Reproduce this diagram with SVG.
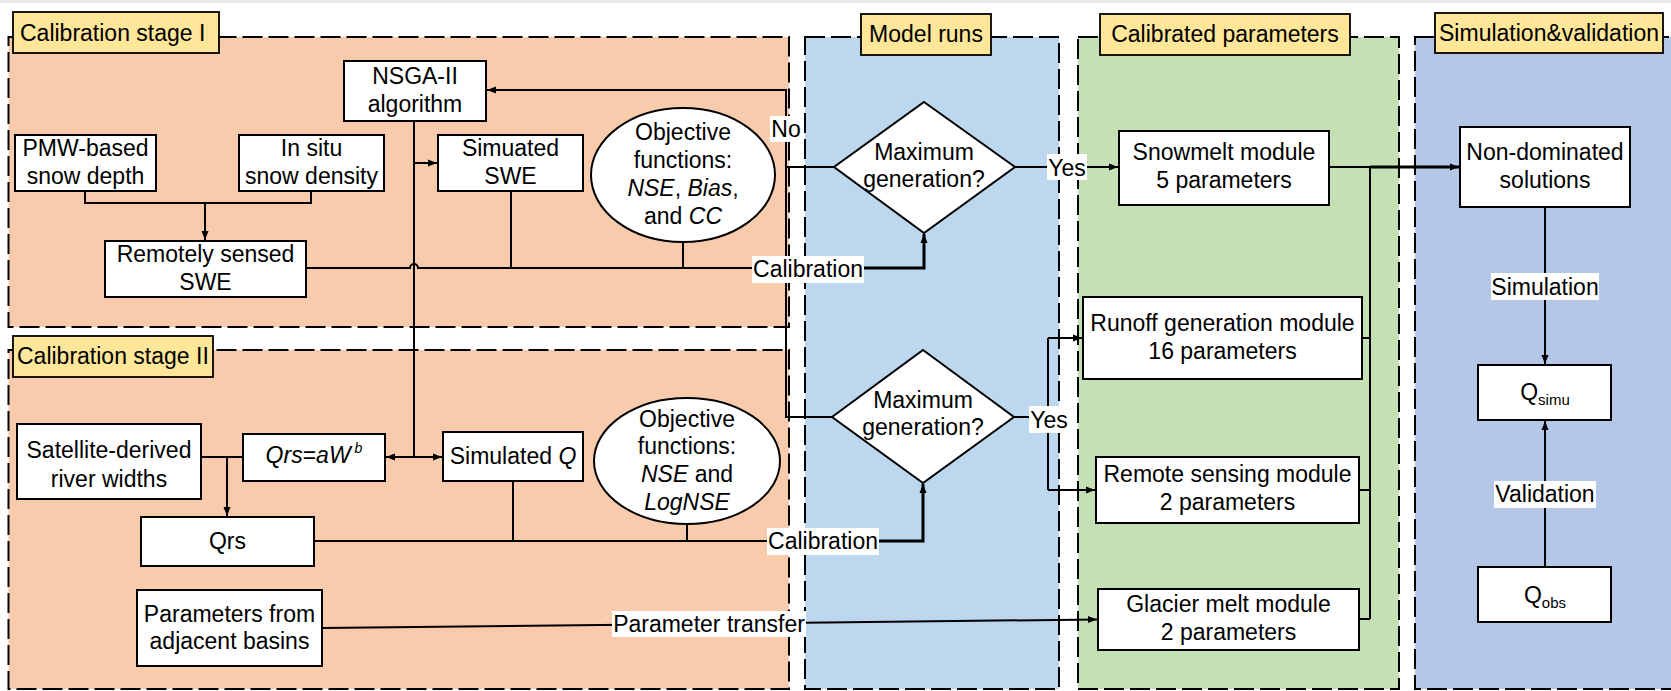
<svg xmlns="http://www.w3.org/2000/svg" width="1671" height="691" viewBox="0 0 1671 691">
<style>
text{font-family:"Liberation Sans",Arial,sans-serif;font-size:23px;fill:#000}
.c{text-anchor:middle}
.i{font-style:italic}
.panel{stroke:#000;stroke-width:2;stroke-dasharray:20 6}
.lab{fill:#FFE699;stroke:#000;stroke-width:1.8}
.box{fill:#fff;stroke:#000;stroke-width:2}
.wl{fill:#fff}
.ln{fill:none;stroke:#000;stroke-width:2}
.th{fill:none;stroke:#000;stroke-width:3}
</style>
<defs>
<marker id="ar" markerUnits="userSpaceOnUse" markerWidth="10" markerHeight="10" viewBox="0 0 10 10" refX="9" refY="5" orient="auto">
<path d="M0,1.5 L9,5 L0,8.5 Z" fill="#000"/>
</marker>
</defs>
<rect x="0" y="0" width="1671" height="691" fill="#fff"/>
<rect x="0" y="0" width="1671" height="3" fill="#E7EBF0"/>

<g id="panel-stage1">
<rect class="panel" x="8.5" y="37" width="780.5" height="290" fill="#F8CBAD"/>
<rect class="lab" x="13" y="12" width="206" height="41"/>
<text x="20" y="41">Calibration stage I</text>
</g>
<g id="panel-stage2">
<rect class="panel" x="8.5" y="350" width="780.5" height="339" fill="#F8CBAD"/>
<rect class="lab" x="13" y="336" width="200" height="41"/>
<text x="17" y="364">Calibration stage II</text>
</g>
<g id="panel-model">
<rect class="panel" x="805" y="37" width="254" height="652" fill="#BDD7EE"/>
<rect class="lab" x="861" y="14" width="130" height="41"/>
<text class="c" x="926" y="42">Model runs</text>
</g>
<g id="panel-params">
<rect class="panel" x="1078" y="37" width="321" height="652" fill="#C5E0B4"/>
<rect class="lab" x="1100" y="14" width="250" height="41"/>
<text class="c" x="1225" y="42">Calibrated parameters</text>
</g>
<g id="panel-sim">
<rect class="panel" x="1415" y="37" width="262" height="652" fill="#B4C7E7"/>
<rect class="lab" x="1435" y="13" width="228" height="40"/>
<text class="c" x="1549" y="41" textLength="220" lengthAdjust="spacingAndGlyphs">Simulation&amp;validation</text>
</g>

<g id="connectors">
<path class="ln" d="M85,191 V203 H311 V191"/>
<path class="ln" d="M205,203 V240" marker-end="url(#ar)"/>
<path class="ln" d="M414,121 V457"/>
<path class="ln" d="M414,163 H437" marker-end="url(#ar)"/>
<path class="ln" d="M414,457 H386" marker-end="url(#ar)"/>
<path class="ln" d="M414,457 H442" marker-end="url(#ar)"/>
<path class="ln" d="M306,268 H410 A4,4 0 0 1 418,268 H810"/>
<path class="ln" d="M511,191 V268"/>
<path class="ln" d="M683,242 V268"/>
<path class="th" d="M810,268 H924 V234" marker-end="url(#ar)"/>
<path class="ln" d="M201,457 H243"/>
<path class="ln" d="M227,457 V516" marker-end="url(#ar)"/>
<path class="ln" d="M314,541 H820"/>
<path class="ln" d="M513,482 V541"/>
<path class="ln" d="M687,524 V541"/>
<path class="th" d="M820,541 H923 V484" marker-end="url(#ar)"/>
<path class="ln" d="M834,167 H786"/>
<path class="ln" d="M832,417 H786 V90 H487" marker-end="url(#ar)"/>
<path class="ln" d="M1015,167 H1118" marker-end="url(#ar)"/>
<path class="ln" d="M1014,417 H1048"/>
<path class="ln" d="M1048,338 V490"/>
<path class="ln" d="M1048,338 H1082" marker-end="url(#ar)"/>
<path class="ln" d="M1048,490 H1095" marker-end="url(#ar)"/>
<path class="ln" d="M1329,167 H1370 V619"/>
<path class="th" d="M1370,167 H1459" marker-end="url(#ar)"/>
<path class="ln" d="M1362,338 H1370"/>
<path class="ln" d="M1359,490 H1370"/>
<path class="ln" d="M1359,619 H1370"/>
<path class="ln" d="M322,628 L1097,619.5" marker-end="url(#ar)"/>
<path class="ln" d="M1545,207 V364" marker-end="url(#ar)"/>
<path class="ln" d="M1545,567 V421" marker-end="url(#ar)"/>
<rect class="wl" x="770" y="116" width="32" height="26"/>
<text class="c" x="786" y="137">No</text>
<rect class="wl" x="1047" y="154" width="40" height="26"/>
<text class="c" x="1067" y="176">Yes</text>
<rect class="wl" x="1029" y="406" width="40" height="27"/>
<text class="c" x="1049" y="428">Yes</text>
<rect class="wl" x="752" y="256" width="112" height="27"/>
<text class="c" x="808" y="277">Calibration</text>
<rect class="wl" x="767" y="528" width="112" height="27"/>
<text class="c" x="823" y="549">Calibration</text>
<rect class="wl" x="1491" y="273" width="108" height="27"/>
<text class="c" x="1545" y="295">Simulation</text>
<rect class="wl" x="1494" y="481" width="102" height="27"/>
<text class="c" x="1545" y="502">Validation</text>
<rect class="wl" x="612" y="611" width="194" height="26"/>
<text class="c" x="709" y="632">Parameter transfer</text>
</g>

<g id="nsga">
<rect class="box" x="344" y="61" width="142" height="60"/>
<text class="c" x="415" y="84">NSGA-II</text>
<text class="c" x="415" y="112">algorithm</text>
</g>
<g id="pmw">
<rect class="box" x="15" y="135" width="141" height="56"/>
<text class="c" x="85.5" y="156">PMW-based</text>
<text class="c" x="85.5" y="184">snow depth</text>
</g>
<g id="insitu">
<rect class="box" x="239" y="135" width="145" height="56"/>
<text class="c" x="311.5" y="156">In situ</text>
<text class="c" x="311.5" y="184">snow density</text>
</g>
<g id="simswe">
<rect class="box" x="438" y="135" width="145" height="56"/>
<text class="c" x="510.5" y="156">Simuated</text>
<text class="c" x="510.5" y="184">SWE</text>
</g>
<g id="rsswe">
<rect class="box" x="105" y="241" width="201" height="56"/>
<text class="c" x="205.5" y="262">Remotely sensed</text>
<text class="c" x="205.5" y="290">SWE</text>
</g>
<g id="obj1">
<ellipse cx="683" cy="175" rx="92" ry="67" fill="#fff" stroke="#000" stroke-width="2"/>
<text class="c" x="683" y="140">Objective</text>
<text class="c" x="683" y="168">functions:</text>
<text class="c" x="683" y="196"><tspan class="i">NSE</tspan>, <tspan class="i">Bias</tspan>,</text>
<text class="c" x="683" y="224">and <tspan class="i">CC</tspan></text>
</g>
<g id="diamond1">
<polygon points="924,102 1015,167 924,233 834,167" fill="#fff" stroke="#000" stroke-width="2"/>
<text class="c" x="924" y="160">Maximum</text>
<text class="c" x="924" y="187">generation?</text>
</g>
<g id="satw">
<rect class="box" x="17" y="424" width="184" height="75"/>
<text class="c" x="109" y="458">Satellite-derived</text>
<text class="c" x="109" y="487">river widths</text>
</g>
<g id="qrsformula">
<rect class="box" x="243" y="434" width="142" height="47"/>
<text class="c" x="314" y="463"><tspan class="i">Qrs</tspan>=<tspan class="i">aW</tspan><tspan class="i" font-size="14" dx="4" dy="-10">b</tspan></text>
</g>
<g id="simq">
<rect class="box" x="443" y="432" width="140" height="49"/>
<text class="c" x="513" y="464">Simulated <tspan class="i">Q</tspan></text>
</g>
<g id="qrs">
<rect class="box" x="141" y="517" width="173" height="49"/>
<text class="c" x="227.5" y="549">Qrs</text>
</g>
<g id="adjacent">
<rect class="box" x="137" y="590" width="185" height="76"/>
<text class="c" x="229.5" y="622">Parameters from</text>
<text class="c" x="229.5" y="649">adjacent basins</text>
</g>
<g id="obj2">
<ellipse cx="687" cy="461" rx="93" ry="63" fill="#fff" stroke="#000" stroke-width="2"/>
<text class="c" x="687" y="427">Objective</text>
<text class="c" x="687" y="454">functions:</text>
<text class="c" x="687" y="482"><tspan class="i">NSE</tspan> and</text>
<text class="c" x="687" y="510" font-style="italic">LogNSE</text>
</g>
<g id="diamond2">
<polygon points="923,350 1014,417 923,483 832,417" fill="#fff" stroke="#000" stroke-width="2"/>
<text class="c" x="923" y="408">Maximum</text>
<text class="c" x="923" y="435">generation?</text>
</g>
<g id="snowmelt">
<rect class="box" x="1119" y="131" width="210" height="74"/>
<text class="c" x="1224" y="160">Snowmelt module</text>
<text class="c" x="1224" y="188">5 parameters</text>
</g>
<g id="runoff">
<rect class="box" x="1083" y="297" width="279" height="82"/>
<text class="c" x="1222.5" y="331">Runoff generation module</text>
<text class="c" x="1222.5" y="359">16 parameters</text>
</g>
<g id="remote">
<rect class="box" x="1096" y="457" width="263" height="66"/>
<text class="c" x="1227.5" y="482">Remote sensing module</text>
<text class="c" x="1227.5" y="510">2 parameters</text>
</g>
<g id="glacier">
<rect class="box" x="1098" y="589" width="261" height="61"/>
<text class="c" x="1228.5" y="612">Glacier melt module</text>
<text class="c" x="1228.5" y="640">2 parameters</text>
</g>
<g id="nondom">
<rect class="box" x="1460" y="127" width="170" height="80"/>
<text class="c" x="1545" y="160">Non-dominated</text>
<text class="c" x="1545" y="188">solutions</text>
</g>
<g id="qsimu">
<rect class="box" x="1478" y="365" width="133" height="55"/>
<text class="c" x="1545" y="400">Q<tspan font-size="15" dy="5">simu</tspan></text>
</g>
<g id="qobs">
<rect class="box" x="1478" y="567" width="133" height="55"/>
<text class="c" x="1545" y="603">Q<tspan font-size="15" dy="5">obs</tspan></text>
</g>
</svg>
